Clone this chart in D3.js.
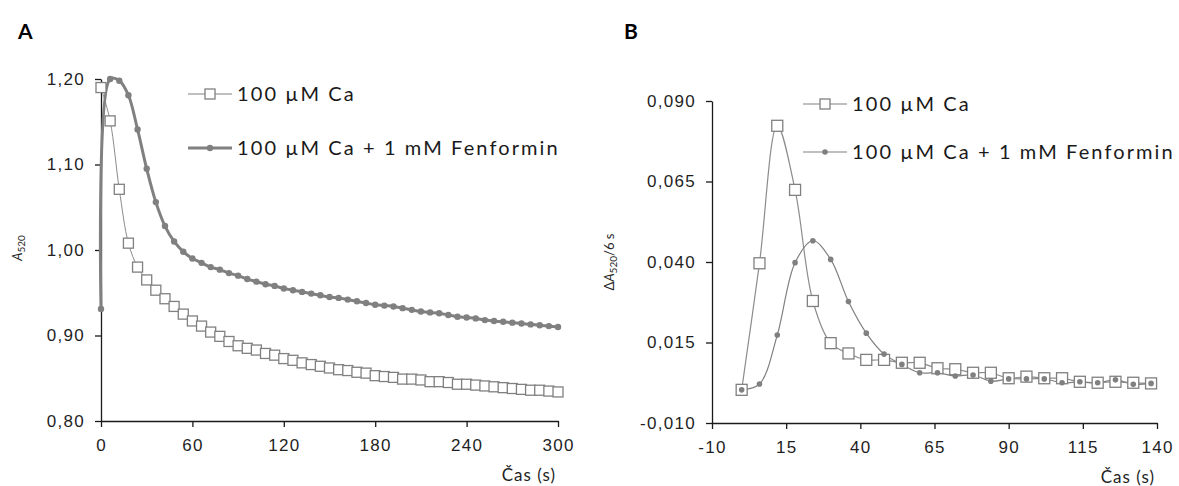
<!DOCTYPE html>
<html>
<head>
<meta charset="utf-8">
<script src="https://cdn.jsdelivr.net/npm/d3@7"></script>
<style>
    body { margin: 0; background: #fff; }
    svg { font-family: Lato, 'Open Sans', sans-serif; }
    .tick text { font-size: 17px; fill: #1f1f1f; letter-spacing: 1.3px; }
    .domain, .tick line { stroke: #1a1a1a; stroke-width: 1.3; }
    .legendtext { font-size: 20px; fill: #1a1a1a; letter-spacing: 2.1px; }
    .xlabel { font-size: 17px; fill: #1f1f1f; letter-spacing: 1px; }
    .ylabel { font-size: 13px; fill: #262626; }
    .panel { font-size: 21px; font-weight: bold; fill: #000; }
</style>
</head>
<body>
<div id="chart"></div>
<script>
'use strict';
// Panel A: absorbance A520 vs time (s)
const timeA = [0, 6, 12, 18, 24, 30, 36, 42, 48, 54, 60, 66, 72, 78, 84, 90, 96, 102, 108, 114, 120,
    126, 132, 138, 144, 150, 156, 162, 168, 174, 180, 186, 192, 198, 204, 210, 216, 222, 228, 234, 240,
    246, 252, 258, 264, 270, 276, 282, 288, 294, 300]
const caA = [1.190, 1.151, 1.071, 1.008, 0.980, 0.965, 0.953, 0.943, 0.934, 0.925, 0.917,
    0.911, 0.904, 0.899, 0.893, 0.888, 0.885, 0.883, 0.879, 0.877, 0.873,
    0.871, 0.868, 0.866, 0.864, 0.862, 0.860, 0.859, 0.857, 0.856, 0.853,
    0.852, 0.851, 0.849, 0.849, 0.848, 0.846, 0.846, 0.845, 0.843, 0.843,
    0.842, 0.841, 0.840, 0.839, 0.838, 0.837, 0.836, 0.836, 0.835, 0.834]
const fenA = [0.931, 1.200, 1.198, 1.181, 1.141, 1.095, 1.056, 1.028, 1.010, 0.998, 0.990,
    0.985, 0.980, 0.977, 0.973, 0.970, 0.966, 0.963, 0.960, 0.958, 0.955,
    0.953, 0.951, 0.949, 0.947, 0.945, 0.944, 0.942, 0.940, 0.938, 0.936,
    0.935, 0.934, 0.932, 0.930, 0.928, 0.927, 0.926, 0.924, 0.922, 0.921,
    0.920, 0.918, 0.917, 0.916, 0.915, 0.914, 0.913, 0.912, 0.911, 0.910]
// Panel B: change of A520 per 6 s
const timeB = [0, 6, 12, 18, 24, 30, 36, 42, 48, 54, 60, 66, 72, 78, 84, 90, 96, 102, 108, 114,
    120, 126, 132, 138]
const caB = [0.0003, 0.0396, 0.0823, 0.0624, 0.0279, 0.0148, 0.0116, 0.0096, 0.0096, 0.0087,
    0.0087, 0.0070, 0.0067, 0.0056, 0.0056, 0.0039, 0.0044, 0.0039, 0.0039, 0.0028,
    0.0025, 0.0028, 0.0025, 0.0023]
const fenB = [0.0003, 0.0021, 0.0173, 0.0398, 0.0466, 0.0408, 0.0277, 0.0179, 0.0114, 0.0082,
    0.0056, 0.0056, 0.0046, 0.0049, 0.0030, 0.0037, 0.0037, 0.0037, 0.0025, 0.0028,
    0.0025, 0.0034, 0.0020, 0.0023]
const seriesNames = ['100 µM Ca', '100 µM Ca + 1 mM Fenformin']
const xTicksA = [0, 60, 120, 180, 240, 300]
const yTicksA = [0.80, 0.90, 1.00, 1.10, 1.20]
const xTicksB = [-10, 15, 40, 65, 90, 115, 140]
const yTicksB = [-0.010, 0.015, 0.040, 0.065, 0.090]

const grey = '#808080'
const svg = d3.select('#chart').append('svg')
    .attr('width', 1179)
    .attr('height', 486)

// Czech style numbers: decimal comma, plain hyphen for minus
const comma = f => v => d3.format(f)(v).replace('.', ',').replace('−', '-')

function drawPanel(opt) {
    const x = d3.scaleLinear().domain(opt.xDomain).range(opt.xRange)
    const y = d3.scaleLinear().domain(opt.yDomain).range(opt.yRange)
    const g = svg.append('g')

    g.append('g') // x axis
        .attr('transform', `translate(0, ${opt.yRange[0]})`)
        .call(d3.axisBottom(x).tickValues(opt.xTicks).tickFormat(comma('d'))
            .tickSize(6).tickPadding(12).tickSizeOuter(0))
    g.append('g') // y axis
        .attr('transform', `translate(${opt.xRange[0]}, 0)`)
        .call(d3.axisLeft(y).tickValues(opt.yTicks).tickFormat(comma(opt.yFormat))
            .tickSize(6).tickPadding(10).tickSizeOuter(0))

    const ca = opt.time.map((t, i) => ({ t: t, v: opt.ca[i] }))
    const fen = opt.time.map((t, i) => ({ t: t, v: opt.fen[i] }))
    const line = d3.line()
        .x(d => x(d.t))
        .y(d => y(d.v))
        .curve(d3.curveCatmullRom.alpha(0.5))

    g.append('path').datum(ca) // Ca line
        .attr('fill', 'none')
        .attr('stroke', '#8c8c8c')
        .attr('stroke-width', opt.caWidth)
        .attr('d', line)
    g.append('path').datum(fen) // Fenformin line
        .attr('fill', 'none')
        .attr('stroke', grey)
        .attr('stroke-width', opt.fenWidth)
        .attr('d', line)
    g.append('g').selectAll('rect') // square markers
        .data(ca).enter().append('rect')
        .attr('x', d => x(d.t) - opt.sq / 2)
        .attr('y', d => y(d.v) - opt.sq / 2)
        .attr('width', opt.sq)
        .attr('height', opt.sq)
        .attr('fill', '#fff')
        .attr('stroke', grey)
        .attr('stroke-width', 1.3)
    g.append('g').selectAll('circle') // circle markers
        .data(fen).enter().append('circle')
        .attr('cx', d => x(d.t))
        .attr('cy', d => y(d.v))
        .attr('r', opt.r)
        .attr('fill', grey)

    // legend
    const lx = opt.legend[0], ly = opt.legend[1]
    seriesNames.forEach((name, i) => {
        const yy = ly + i * opt.legendGap
        g.append('line')
            .attr('x1', lx).attr('x2', lx + 44)
            .attr('y1', yy).attr('y2', yy)
            .attr('stroke', grey)
            .attr('stroke-width', i === 0 ? 1.2 : opt.fenWidth)
        if (i === 0) {
            g.append('rect')
                .attr('x', lx + 22 - 5).attr('y', yy - 5)
                .attr('width', 10).attr('height', 10)
                .attr('fill', '#fff').attr('stroke', grey).attr('stroke-width', 1.3)
        } else {
            g.append('circle')
                .attr('cx', lx + 22).attr('cy', yy).attr('r', opt.r)
                .attr('fill', grey)
        }
        g.append('text')
            .attr('class', 'legendtext')
            .attr('x', lx + 49)
            .attr('y', yy)
            .attr('dy', '0.35em')
            .text(name)
    })

    g.append('text') // x axis label
        .attr('class', 'xlabel')
        .attr('x', opt.xRange[1] - 2)
        .attr('y', opt.yRange[0] + 60)
        .attr('text-anchor', 'end')
        .text('Čas (s)')

    g.append('text') // panel letter
        .attr('class', 'panel')
        .attr('x', opt.letterX)
        .attr('y', 39)
        .text(opt.letter)
    return g
}

const gA = drawPanel({
    letter: 'A', letterX: 18,
    time: timeA, ca: caA, fen: fenA,
    xDomain: [0, 300], xRange: [101, 558],
    yDomain: [0.80, 1.20], yRange: [421, 79],
    xTicks: xTicksA, yTicks: yTicksA, yFormat: '.2f',
    caWidth: 1, fenWidth: 3, sq: 10, r: 3.2,
    legend: [188, 94], legendGap: 54
})
const gB = drawPanel({
    letter: 'B', letterX: 624,
    time: timeB, ca: caB, fen: fenB,
    xDomain: [-10, 140], xRange: [712, 1157],
    yDomain: [-0.010, 0.090], yRange: [423, 101],
    xTicks: xTicksB, yTicks: yTicksB, yFormat: '.3f',
    caWidth: 1.2, fenWidth: 1.2, sq: 11, r: 2.8,
    legend: [803, 104], legendGap: 48
})

// y axis labels
const yl = gA.append('text')
    .attr('class', 'ylabel')
    .attr('transform', 'translate(22, 248) rotate(-90)')
    .attr('text-anchor', 'middle')
yl.append('tspan').attr('font-style', 'italic').text('A')
yl.append('tspan').attr('font-size', '10px').attr('dy', 3).text('520')

const ylB = gB.append('text')
    .attr('class', 'ylabel')
    .attr('transform', 'translate(614, 262) rotate(-90)')
    .attr('text-anchor', 'middle')
ylB.append('tspan').text('Δ')
ylB.append('tspan').attr('font-style', 'italic').text('A')
ylB.append('tspan').attr('font-size', '10px').attr('dy', 3).text('520')
ylB.append('tspan').attr('dy', -3).text('/6 s')
</script>
</body>
</html>
